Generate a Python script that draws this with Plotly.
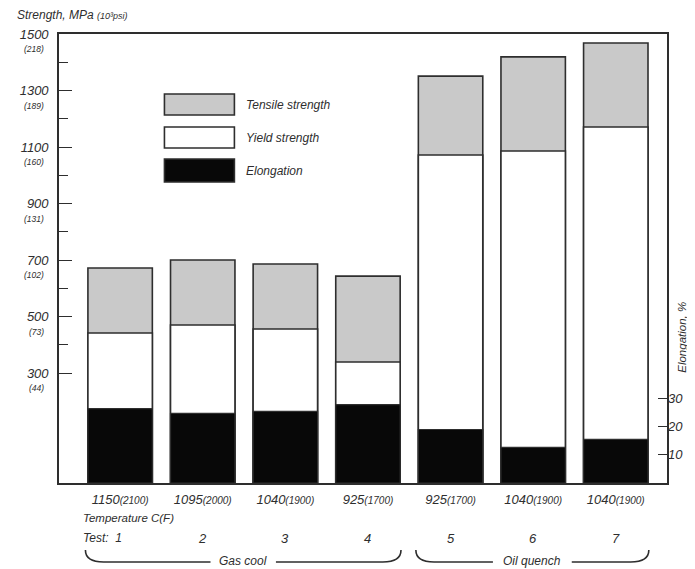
import plotly.graph_objects as go

# ---------------- data ----------------
tests = ["1", "2", "3", "4", "5", "6", "7"]
temp_c = ["1150", "1095", "1040", "925", "925", "1040", "1040"]
temp_f = ["2100", "2000", "1900", "1700", "1700", "1900", "1900"]
tensile_mpa = [672, 700, 686, 643, 1351, 1419, 1468]
yield_mpa = [442, 470, 456, 339, 1072, 1086, 1171]
elongation_pct = [26.3, 24.6, 25.3, 27.7, 18.9, 12.6, 15.4]

strength_ticks = [300, 500, 700, 900, 1100, 1300, 1500]
strength_ticks_ksi = ["44", "73", "102", "131", "160", "189", "218"]
strength_minor = [400, 600, 800, 1000, 1200, 1400]
elong_ticks = [10, 20, 30]
legend_names = ["Tensile strength", "Yield strength", "Elongation"]
groups = [("Gas cool", 0, 3), ("Oil quench", 4, 6)]

# ---------------- style ----------------
FONT = "Liberation Sans"
INK = "#2e2e2e"
GREY = "#c9c9c9"
STRENGTH_RANGE = [-89, 1500]
ELONG_RANGE = [0, 158.6]
X_RANGE = [-0.74, 6.62]
BAR_W = 0.78

# page body has an 8px margin; figure placed at (8, 8) on screen
OFF = 8
W, H = 695 - OFF, 569 - OFF
ML, MR, MT, MB = 53 - OFF, 25, 34 - OFF, 86
PW, PH = W - ML - MR, H - MT - MB


def px(xs):
    # screen x (reference pixels) -> paper
    return (xs - OFF - ML) / PW


def py(ys):
    # screen y (reference pixels) -> paper
    return (H - MB - (ys - OFF)) / PH


x = list(range(len(tests)))
base = STRENGTH_RANGE[0]

fig = go.Figure()
fig.add_trace(go.Bar(
    x=x, y=[v - base for v in tensile_mpa], base=base, width=BAR_W,
    name=legend_names[0], marker=dict(color=GREY, line=dict(color=INK, width=1.6)),
    customdata=tensile_mpa, hovertemplate="%{customdata} MPa<extra></extra>"))
fig.add_trace(go.Bar(
    x=x, y=[v - base for v in yield_mpa], base=base, width=BAR_W,
    name=legend_names[1], marker=dict(color="white", line=dict(color=INK, width=1.6)),
    customdata=yield_mpa, hovertemplate="%{customdata} MPa<extra></extra>"))
fig.add_trace(go.Bar(
    x=x, y=elongation_pct, width=BAR_W, yaxis="y2",
    name=legend_names[2], marker=dict(color="#080808", line=dict(color=INK, width=1.2))))

tickfont = dict(family=FONT, size=13, color=INK, style="italic")

fig.update_layout(
    width=W, height=H,
    margin=dict(l=ML, r=MR, t=MT, b=MB),
    paper_bgcolor="white", plot_bgcolor="white",
    barmode="overlay", showlegend=False,
    font=dict(family=FONT, color=INK),
    xaxis=dict(
        range=X_RANGE, tickvals=x,
        ticktext=[f"{c}<span style='font-size:10px'>({f})</span>" for c, f in zip(temp_c, temp_f)],
        tickfont=tickfont, ticks="", showgrid=False, zeroline=False, ticklabelstandoff=4,
        showline=True, mirror=True, linecolor=INK, linewidth=1.6),
    yaxis=dict(
        range=STRENGTH_RANGE, tickvals=strength_ticks,
        ticktext=[str(v) for v in strength_ticks],
        tickfont=tickfont, ticks="inside", ticklen=13, tickwidth=1.4, tickcolor=INK,
        ticklabelstandoff=6,
        minor=dict(tickvals=strength_minor, ticks="inside", ticklen=9, tickwidth=1, tickcolor=INK),
        showgrid=False, zeroline=False,
        showline=True, mirror=True, linecolor=INK, linewidth=1.6),
    yaxis2=dict(
        range=ELONG_RANGE, overlaying="y", side="right", tickvals=elong_ticks,
        ticktext=[str(v) for v in elong_ticks],
        tickfont=tickfont, ticks="inside", ticklen=9, tickwidth=1.4, tickcolor=INK,
        showgrid=False, zeroline=False, showline=False),
)

ann = []
shapes = []
it = dict(style="italic")

# top-left axis title
ann.append(dict(xref="paper", yref="paper", x=px(8), y=py(15), xanchor="left", yanchor="middle",
                text="Strength, MPa <span style='font-size:9px'>(10³psi)</span>",
                showarrow=False, font=dict(family=FONT, size=12, color=INK, **it)))

# psi values under strength tick labels
for v, k in zip(strength_ticks, strength_ticks_ksi):
    ann.append(dict(xref="paper", yref="y", x=0, y=v, xanchor="right", yanchor="middle",
                    xshift=-13, yshift=-15, text=f"({k})", showarrow=False,
                    font=dict(family=FONT, size=8.5, color=INK, **it)))

# right axis title
ann.append(dict(xref="paper", yref="paper", x=px(685), y=py(337), textangle=-90,
                xanchor="center", yanchor="middle", text="Elongation, %", showarrow=False,
                font=dict(family=FONT, size=11.5, color=INK, **it)))

# legend
legend_fill = [GREY, "white", "#080808"]
legend_rows = [(94, 115), (127, 148), (159, 182)]
for name, fill, (t, b) in zip(legend_names, legend_fill, legend_rows):
    shapes.append(dict(type="rect", xref="paper", yref="paper",
                       x0=px(160), x1=px(231), y0=py(b), y1=py(t),
                       fillcolor=fill, line=dict(color=INK, width=1.6)))
    ann.append(dict(xref="paper", yref="paper", x=px(241), y=py((t + b) / 2),
                    xanchor="left", yanchor="middle", text=name, showarrow=False,
                    font=dict(family=FONT, size=12, color=INK, **it)))

# bottom texts
ann.append(dict(xref="paper", yref="paper", x=px(75), y=py(518), xanchor="left", yanchor="middle",
                text="Temperature C(F)", showarrow=False,
                font=dict(family=FONT, size=11.5, color=INK, **it)))
ann.append(dict(xref="paper", yref="paper", x=px(75), y=py(538), xanchor="left", yanchor="middle",
                text=f"Test:  {tests[0]}", showarrow=False,
                font=dict(family=FONT, size=12, color=INK, **it)))
for xi, t in zip(x[1:], tests[1:]):
    ann.append(dict(xref="x", yref="paper", x=xi, y=py(538), xanchor="center", yanchor="middle",
                    text=t, showarrow=False, font=dict(family=FONT, size=13, color=INK, **it)))

# braces
ytip, yline, ytext = py(550), py(562), py(561)
for label, first, last in groups:
    x0 = first - 0.42
    x1 = last + 0.40
    cx = (x0 + x1) / 2
    g = (len(label) * 6.8 / 2 + 6) / (PW / (X_RANGE[1] - X_RANGE[0]))
    r = 0.22
    path = (f"M {x0},{ytip} Q {x0},{yline} {x0 + r},{yline} L {cx - g},{yline} "
            f"M {cx + g},{yline} L {x1 - r},{yline} Q {x1},{yline} {x1},{ytip}")
    shapes.append(dict(type="path", xref="x", yref="paper", path=path,
                       line=dict(color=INK, width=1.6)))
    ann.append(dict(xref="x", yref="paper", x=cx, y=ytext, xanchor="center", yanchor="middle",
                    text=label, showarrow=False, font=dict(family=FONT, size=12, color=INK, **it)))

fig.update_layout(annotations=ann, shapes=shapes)
fig.write_html("out.html")
